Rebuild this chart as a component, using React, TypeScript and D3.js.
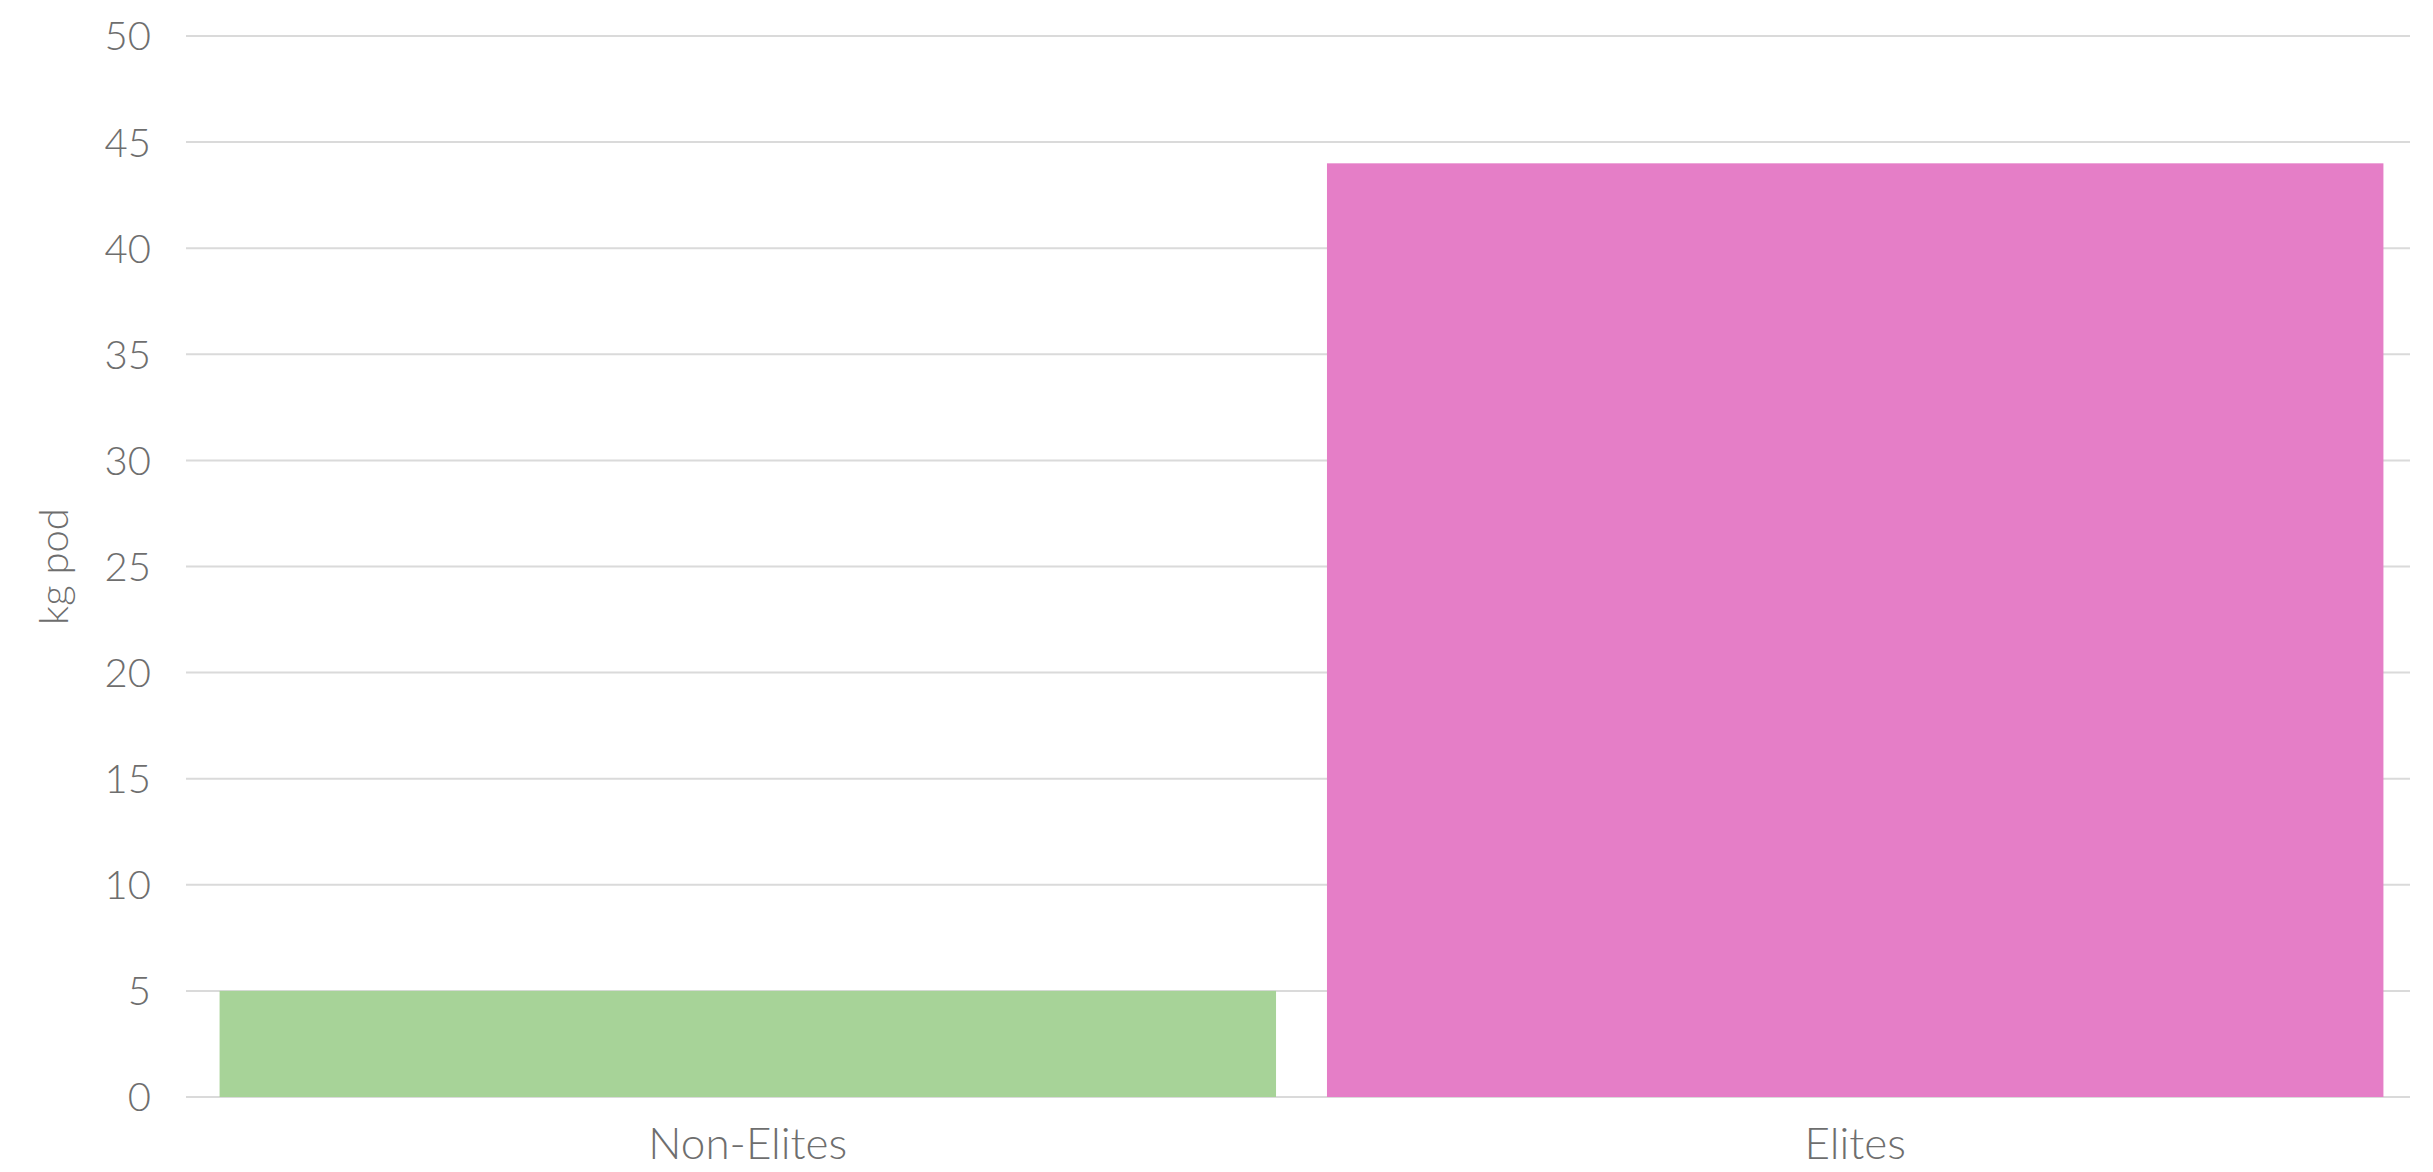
import React from "react";
import * as d3 from "d3";

const categories = ["Non-Elites", "Elites"];
const values = [5, 44];
const barColors = ["#a7d398", "#e57ec7"];
const yTicks = [0, 5, 10, 15, 20, 25, 30, 35, 40, 45, 50];
const yLabel = "kg pod";

const W = 2433;
const H = 1172;
const FONT = "Lato, 'Open Sans', sans-serif";
const TEXT_COLOR = "#6e6e6e";

export default function App() {
  const x = d3
    .scaleBand<string>()
    .domain(categories)
    .range([193, 2410])
    .paddingInner(0.046)
    .paddingOuter(0.024);
  const y = d3.scaleLinear().domain([0, 50]).range([1097, 36]);

  return (
    <svg
      width={W}
      height={H}
      style={{ position: "absolute", left: 0, top: 0, background: "#fff" }}
    >
      <rect x={0} y={0} width={W} height={H} fill="#fff" />
      {yTicks.map((t) => (
        <g key={t}>
          <line
            x1={186}
            x2={2410}
            y1={y(t)}
            y2={y(t)}
            stroke="#dadada"
            strokeWidth={2}
          />
          <text
            x={151}
            y={y(t)}
            dy="0.36em"
            textAnchor="end"
            fontFamily={FONT}
            fontWeight={300}
            fontSize={40}
            fill={TEXT_COLOR}
          >
            {t}
          </text>
        </g>
      ))}
      {categories.map((c, i) => (
        <rect
          key={c}
          x={x(c)}
          y={y(values[i])}
          width={x.bandwidth()}
          height={y(0) - y(values[i])}
          fill={barColors[i]}
        />
      ))}
      {categories.map((c) => (
        <text
          key={c}
          x={(x(c) as number) + x.bandwidth() / 2}
          y={1159}
          textAnchor="middle"
          fontFamily={FONT}
          fontWeight={300}
          fontSize={44}
          fill={TEXT_COLOR}
        >
          {c}
        </text>
      ))}
      <text
        transform={`translate(68, ${(y(0) + y(50)) / 2}) rotate(-90)`}
        textAnchor="middle"
        fontFamily={FONT}
        fontWeight={300}
        fontSize={40}
        fill={TEXT_COLOR}
      >
        {yLabel}
      </text>
    </svg>
  );
}
